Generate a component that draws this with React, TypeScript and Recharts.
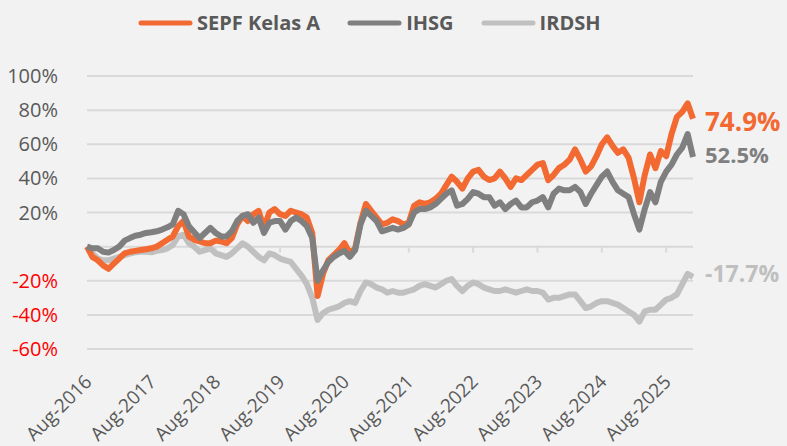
import { LineChart, Line, XAxis, YAxis, CartesianGrid, Legend, ReferenceLine } from 'recharts';

// x tick labels, one per year (monthly data starting Aug-2016)
const xLabels = ['Aug-2016', 'Aug-2017', 'Aug-2018', 'Aug-2019', 'Aug-2020', 'Aug-2021', 'Aug-2022', 'Aug-2023', 'Aug-2024', 'Aug-2025'];
const yTicks = [-60, -40, -20, 0, 20, 40, 60, 80, 100];

const seriesNames = ['SEPF Kelas A', 'IHSG', 'IRDSH'];
const seriesColors = ['#f26a32', '#7f7f7f', '#c0c0c0'];

// cumulative return in %, monthly
const sepf = [
  0, -6, -8, -11, -13, -10, -7, -4, -3, -2.5,
  -2, -1.5, -1, 0, 2, 4, 6, 12, 15, 6,
  4, 3, 2, 2, 3.5, 3, 2, 5, 13, 18,
  15, 19, 21, 11, 20, 22, 19, 18, 21, 20,
  19, 17, 8, -29, -16, -8, -5, -2, 2, -4,
  -1, 14, 25, 21, 17, 13, 14, 16, 15, 13,
  14, 24, 26, 25, 26, 28, 31, 36, 41, 38,
  34, 40, 44, 45, 41, 39, 40, 44, 40, 35,
  40, 39, 42, 45, 48, 49, 39, 42, 46, 48,
  51, 57, 51, 44, 47, 53, 60, 64, 59, 55,
  57, 52, 40, 26, 42, 54, 46, 56, 53, 66,
  76, 79, 84, 74.9,
];

const ihsg = [
  0, -1, -1, -3, -3.5, -2, 0, 3.5, 5, 6.4,
  7, 8, 8.4, 9, 10, 11.3, 13, 21, 19, 12,
  8.4, 5, 8, 11, 8, 6, 6, 9, 15, 18,
  19, 14, 17, 8, 14, 15, 15, 10, 15, 17,
  15, 12, 5, -20, -14, -9, -6, -4, -2.5, -6,
  -2, 13, 21, 18, 15, 9, 10, 11, 10, 11,
  13, 20, 22, 22, 23, 25, 28, 31, 33, 24,
  25, 28, 32, 31, 29, 29, 24, 26, 22, 25,
  27, 23, 23, 26, 27, 29, 23, 31, 34, 33,
  33, 35, 32, 25, 31, 36, 41, 44, 38, 33,
  31, 29, 19, 10, 22, 32, 26, 38, 44, 48,
  54, 58, 66, 52.5,
];

const irdsh = [
  0, -4, -7, -8, -8, -7, -6, -5, -4, -3.3,
  -3, -3, -3.3, -2.5, -2, -1, 1, 6, 7, 2,
  0, -3, -2, -1, -4, -5, -6, -4, -1, 2,
  0, -3, -6, -8, -4, -5, -7, -8, -9, -13,
  -17, -22, -30, -43, -39, -37, -36, -35, -33, -32,
  -33, -26, -21, -22, -24, -25, -27, -26, -27, -27,
  -26, -25, -23, -22, -23, -24, -22, -20, -19, -23,
  -26, -23, -21, -22, -24, -25, -26, -26, -25, -26,
  -27, -26, -25, -26, -26, -27, -31, -30, -30, -29,
  -28, -28, -32, -36, -35, -33, -32, -32, -33, -34,
  -36, -38, -40, -44, -38, -37, -37, -34, -31, -30,
  -28, -22, -16, -17.7,
];

const data = sepf.map((v, i) => ({ t: i, sepf: v, ihsg: ihsg[i], irdsh: irdsh[i] }));
const xTicks = xLabels.map((_, i) => i * 12);
const lastIndex = data.length - 1;

const font = '"Open Sans", sans-serif';
const textGray = '#595959';

const YTick = (props: any) => {
  const { x, y, payload } = props;
  const v = payload.value;
  if (v === 0) return null;
  return (
    <text x={x} y={y} dy={7} textAnchor="end" fontSize={20} fontFamily={font} fill={v < 0 ? '#ff0000' : textGray}>
      {v}%
    </text>
  );
};

const XTick = (props: any) => {
  const { x, y, payload } = props;
  const label = xLabels[xTicks.indexOf(payload.value)];
  const tx = x + 6;
  const ty = y + 26;
  return (
    <text x={tx} y={ty} textAnchor="end" fontSize={19} fontFamily={font} fill={textGray} transform={`rotate(-45, ${tx}, ${ty})`}>
      {label}
    </text>
  );
};

const endLabel = (color: string, size: number, dy: number) => (props: any) => {
  const { x, y, index, value } = props;
  if (index !== lastIndex) return null;
  return (
    <text x={x + 12} y={y} dy={dy} fontSize={size} fontWeight="bold" fontFamily={font} fill={color}>
      {value.toFixed(1)}%
    </text>
  );
};

const LegendBox = () => (
  <div style={{ display: 'flex', alignItems: 'center', marginLeft: 138, fontFamily: font }}>
    {seriesNames.map((name, i) => (
      <div key={name} style={{ display: 'flex', alignItems: 'center', marginRight: 27 }}>
        <svg width={55} height={10}>
          <line x1={3} y1={5} x2={52} y2={5} stroke={seriesColors[i]} strokeWidth={5} strokeLinecap="round" />
        </svg>
        <span style={{ marginLeft: 4, fontSize: 20, fontWeight: 'bold', color: textGray }}>{name}</span>
      </div>
    ))}
  </div>
);

export default function App() {
  return (
    <div style={{ width: 787, height: 446, background: '#f2f2f2', position: 'relative' }}>
      <style>{'body{margin:0}'}</style>
      <LineChart width={787} height={446} data={data} margin={{ top: 49, right: 94, left: 0, bottom: 0 }}>
        <CartesianGrid vertical={false} stroke="#d9d9d9" strokeWidth={2} />
        <XAxis
          dataKey="t"
          type="number"
          domain={[0, 113]}
          ticks={xTicks}
          interval={0}
          axisLine={false}
          tickLine={false}
          height={97}
          tick={<XTick />}
        />
        <YAxis
          domain={[-60, 100]}
          ticks={yTicks}
          interval={0}
          axisLine={false}
          tickLine={false}
          width={87}
          tickMargin={23}
          tick={<YTick />}
        />
        <Legend verticalAlign="top" content={<LegendBox />} wrapperStyle={{ top: 9, left: 0, width: 787 }} />
        {xTicks.map((t) => (
          <ReferenceLine key={t} segment={[{ x: t, y: 0 }, { x: t, y: -3.5 }]} stroke="#d9d9d9" strokeWidth={2} />
        ))}
        <Line dataKey="irdsh" name={seriesNames[2]} stroke={seriesColors[2]} strokeWidth={6} dot={false} strokeLinejoin="round" isAnimationActive={false} label={endLabel('#bfbfbf', 23, 5)} />
        <Line dataKey="sepf" name={seriesNames[0]} stroke={seriesColors[0]} strokeWidth={6} dot={false} strokeLinejoin="round" isAnimationActive={false} label={endLabel(seriesColors[0], 26, 12)} />
        <Line dataKey="ihsg" name={seriesNames[1]} stroke={seriesColors[1]} strokeWidth={6} dot={false} strokeLinejoin="round" isAnimationActive={false} label={endLabel(seriesColors[1], 22, 6)} />
      </LineChart>
    </div>
  );
}
